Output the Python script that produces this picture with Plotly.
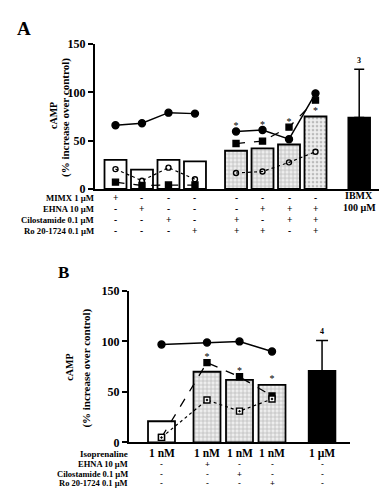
import plotly.graph_objects as go

W, H = 387, 491
FONT = "Liberation Serif, Times New Roman, DejaVu Serif, serif"

# ---------------- Panel A data ----------------
A_bars_g1 = [30, 20, 30, 28.5]
A_bars_g2 = [39.5, 42, 46, 75]
A_ibmx = 74
A_ibmx_err = 50
A_ibmx_n = "3"
A_solid_g1 = [66, 68, 79, 78]
A_solid_g2 = [59.5, 61, 51.5, 99]
A_dashed_g1 = [7, 3.5, 4, 4]
A_dashed_g2 = [47, 49.5, 64, 92]
A_dotted_g1 = [20.5, 8.5, 22, 10]
A_dotted_g2 = [16.5, 18, 27.5, 38.5]
A_star_anchor = [59.5, 61, 64, 75]   # value each asterisk sits above (group 2)
A_rows = ["MIMX 1 \u00b5M", "EHNA 10 \u00b5M", "Cilostamide 0.1 \u00b5M", "Ro 20-1724 0.1 \u00b5M"]
A_signs = [
    ["+", "-", "-", "-", "-", "-", "-", "-"],
    ["-", "+", "-", "-", "-", "+", "+", "+"],
    ["-", "-", "+", "-", "+", "-", "+", "+"],
    ["-", "-", "-", "+", "+", "+", "-", "+"],
]
A_ibmx_label = ["IBMX", "100 \u00b5M"]

# ---------------- Panel B data ----------------
B_bar_ctrl = 21
B_bars_g2 = [70, 62, 57]
B_iso = 71
B_iso_err = 30
B_iso_n = "4"
B_solid = [97, 99, 100, 90]
B_dashed = [5, 79, 65, 46]
B_dotted = [5, 42, 31, 43]
B_star_anchor = [79, 65, 57]
B_conc = ["1 nM", "1 nM", "1 nM", "1 nM", "1 \u00b5M"]
B_rows = ["Isoprenaline", "EHNA 10 \u00b5M", "Cilostamide 0.1 \u00b5M", "Ro 20-1724 0.1 \u00b5M"]
B_signs = [
    ["-", "+", "-", "-", "-"],
    ["-", "-", "+", "-", "-"],
    ["-", "-", "-", "+", "-"],
]

# ---------------- layout constants ----------------
A_pos_g1 = [i for i in range(4)]
A_pos_g2 = [4.55 + i for i in range(4)]
A_pos_ibmx = 9.2
B_pos = [0, 1.4, 2.4, 3.4]
B_pos_iso = 4.94
BW = 0.83

def px_x(p):
    return p / W

def px_y(p):
    return 1 - p / H

fig = go.Figure()

# Panel A bars
fig.add_trace(go.Bar(x=A_pos_g1, y=A_bars_g1, width=BW, xaxis="x", yaxis="y",
                     marker=dict(color="white", line=dict(color="black", width=1.8))))
fig.add_trace(go.Bar(x=A_pos_g2, y=A_bars_g2, width=BW, xaxis="x", yaxis="y",
                     marker=dict(color="#eeeeee", line=dict(color="black", width=1.8),
                                 pattern=dict(shape=["+", "+", "+", "."], size=4, solidity=0.35,
                                              fgcolor="#888888", fillmode="overlay"))))
fig.add_trace(go.Bar(x=[A_pos_ibmx], y=[A_ibmx], width=BW, xaxis="x", yaxis="y",
                     marker=dict(color="black", line=dict(color="black", width=1.5)),
                     error_y=dict(type="data", array=[A_ibmx_err], arrayminus=[0], symmetric=False,
                                  color="black", thickness=1.5, width=5)))

def lines(x, y, xa, ya, dash, symbol, size, width, fill="black"):
    fig.add_trace(go.Scatter(x=x, y=y, xaxis=xa, yaxis=ya, mode="lines+markers",
                             line=dict(color="black", width=width, dash=dash),
                             marker=dict(symbol=symbol, size=size, color=fill,
                                         line=dict(color="black", width=1.4)),
                             cliponaxis=False))

for pos, s, d, o in [(A_pos_g1, A_solid_g1, A_dashed_g1, A_dotted_g1),
                     (A_pos_g2, A_solid_g2, A_dashed_g2, A_dotted_g2)]:
    lines(pos, s, "x", "y", "solid", "circle", 7, 1.5)
    lines(pos, d, "x", "y", "dash", "square", 6, 1.3)
    lines(pos, o, "x", "y", "dot", "circle-open", 5, 1.2)

fig.add_trace(go.Scatter(x=A_pos_g2, y=A_star_anchor, xaxis="x", yaxis="y", mode="text",
                         text=["*"] * 4, textposition="top center",
                         textfont=dict(family=FONT, size=10, color="black")))

# Panel B bars
fig.add_trace(go.Bar(x=[B_pos[0]], y=[B_bar_ctrl], width=BW, xaxis="x2", yaxis="y2",
                     marker=dict(color="white", line=dict(color="black", width=1.8))))
fig.add_trace(go.Bar(x=B_pos[1:], y=B_bars_g2, width=BW, xaxis="x2", yaxis="y2",
                     marker=dict(color="#eeeeee", line=dict(color="black", width=1.8),
                                 pattern=dict(shape="+", size=4, solidity=0.35,
                                              fgcolor="#888888", fillmode="overlay"))))
fig.add_trace(go.Bar(x=[B_pos_iso], y=[B_iso], width=BW, xaxis="x2", yaxis="y2",
                     marker=dict(color="black", line=dict(color="black", width=1.5)),
                     error_y=dict(type="data", array=[B_iso_err], arrayminus=[0], symmetric=False,
                                  color="black", thickness=1.5, width=6)))
lines(B_pos, B_solid, "x2", "y2", "solid", "circle", 7, 1.5)
lines(B_pos, B_dashed, "x2", "y2", "dash", "square", 6, 1.3)
lines(B_pos, B_dotted, "x2", "y2", "dot", "square-dot", 6, 1.2, fill="white")
fig.add_trace(go.Scatter(x=B_pos[1:], y=B_star_anchor, xaxis="x2", yaxis="y2", mode="text",
                         text=["*"] * 3, textposition="top center",
                         textfont=dict(family=FONT, size=10, color="black")))

ann = []
def t(x, y, text, size, xref="paper", yref="paper", xanchor="center", textangle=0, yshift=0):
    ann.append(dict(x=x, y=y, xref=xref, yref=yref, text=text, showarrow=False,
                    xanchor=xanchor, yanchor="middle", textangle=textangle, yshift=yshift,
                    borderpad=0,
                    font=dict(family=FONT, size=size, color="black", weight="bold")))

# Panel letters
t(px_x(16), px_y(14), "A", 19)
t(px_x(55), px_y(265), "B", 17)

# Axis titles
t(px_x(45), px_y(104), "cAMP", 10, textangle=-90)
t(px_x(58), px_y(106), "(% increase over control)", 11, textangle=-90)
t(px_x(62), px_y(362), "cAMP", 10, textangle=-90)
t(px_x(79), px_y(364), "(% increase over control)", 11, textangle=-90)

# Panel A table
A_row_y = [188.5, 200, 211, 222]
A_all_pos = A_pos_g1 + A_pos_g2
for r, label in enumerate(A_rows):
    t(px_x(87), px_y(A_row_y[r]), label, 8.7, xanchor="right")
    for c, s in enumerate(A_signs[r]):
        t(A_all_pos[c], px_y(A_row_y[r]), s, 9.5, xref="x")
t(A_pos_ibmx, px_y(186), A_ibmx_label[0], 10, xref="x")
t(A_pos_ibmx, px_y(198), A_ibmx_label[1], 10, xref="x")
t(A_pos_ibmx, A_ibmx + A_ibmx_err, A_ibmx_n, 8, xref="x", yref="y", yshift=9)

# Panel B table
B_row_y = [452, 462, 472, 482]
B_all_pos = B_pos + [B_pos_iso]
t(px_x(121), px_y(B_row_y[0]), B_rows[0], 9, xanchor="right")
for c, s in enumerate(B_conc):
    t(B_all_pos[c], px_y(451), s, 11.5, xref="x2")
for r in range(1, 4):
    t(px_x(121), px_y(B_row_y[r]), B_rows[r], 8.5, xanchor="right")
    for c, s in enumerate(B_signs[r - 1]):
        t(B_all_pos[c], px_y(B_row_y[r]), s, 8.5, xref="x2")
t(B_pos_iso, B_iso + B_iso_err, B_iso_n, 8, xref="x2", yref="y2", yshift=9)

xcommon = dict(showline=True, linecolor="black", linewidth=2, showticklabels=False,
               ticks="", showgrid=False, zeroline=False)
ycommon = dict(showline=True, linecolor="black", linewidth=2, tickvals=[0, 50, 100, 150],
               ticks="outside", ticklen=5, tickwidth=1.5, tickcolor="black",
               showgrid=False, zeroline=False, range=[0, 150])

fig.update_layout(
    width=W, height=H, margin=dict(l=0, r=0, t=0, b=0),
    paper_bgcolor="white", plot_bgcolor="white", showlegend=False,
    barmode="overlay",
    xaxis=dict(domain=[px_x(87), px_x(383)], range=[-0.774, 10.4], anchor="y", **xcommon),
    yaxis=dict(domain=[px_y(179), px_y(30)], anchor="x",
               tickfont=dict(family=FONT, size=12, color="black", weight="bold"), **ycommon),
    xaxis2=dict(domain=[px_x(121), px_x(342)], range=[-1.0, 5.8], anchor="y2", **xcommon),
    yaxis2=dict(domain=[px_y(440), px_y(284)], anchor="x2",
                tickfont=dict(family=FONT, size=12, color="black", weight="bold"), **ycommon),
    annotations=ann,
)

fig.write_html("out.html")
